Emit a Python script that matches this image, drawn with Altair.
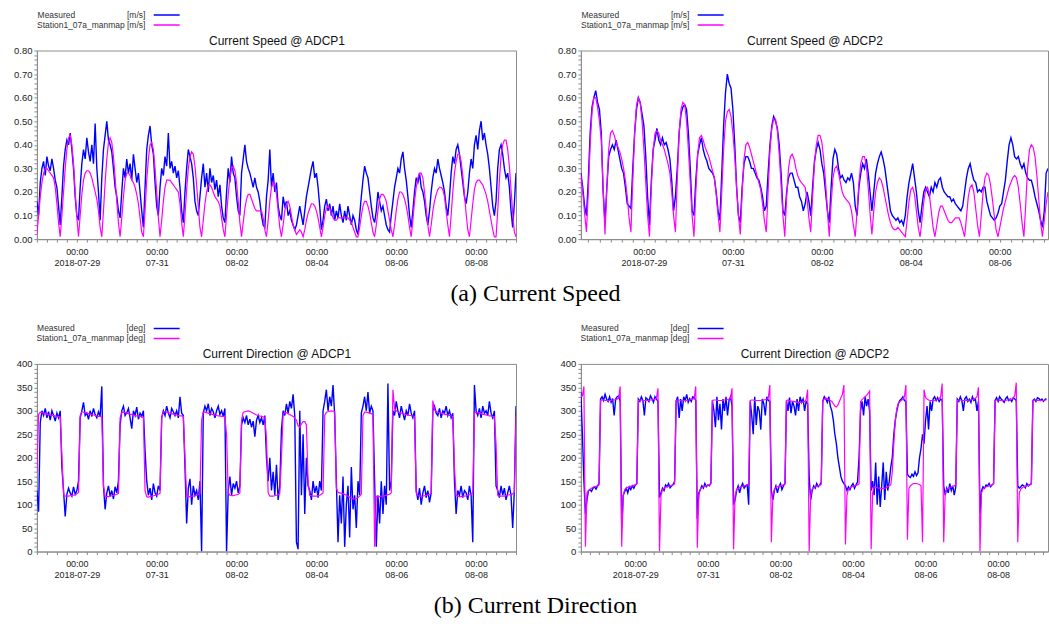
import altair as alt
import numpy as np
import pandas as pd

SERIES = ["Measured", "Station1_07a_manmap"]
COLORS = ["#0000ff", "#ff00ff"]

# ---------------- Current Speed @ ADCP1 : hourly from 2018-07-28 00:00, cm/s
spd1_meas_cms = [
    16, 10, 24, 30, 33, 27, 35, 31, 29, 34, 30, 25, 22, 14, 6, 18, 31, 38, 42, 40, 45, 38, 30, 18,
    10, 8, 22, 32, 38, 34, 43, 37, 33, 40, 32, 49, 30, 20, 8, 26, 38, 44, 50, 42, 40, 37, 30, 22,
    18, 12, 9, 20, 30, 26, 34, 28, 32, 25, 36, 30, 24, 28, 20, 12, 5, 22, 38, 44, 48, 40, 36, 24,
    14, 10, 22, 30, 27, 35, 31, 45, 30, 33, 28, 31, 26, 29, 22, 12, 7, 20, 30, 38, 35, 32, 26, 16,
    12, 10, 18, 26, 32, 22, 28, 20, 30, 24, 27, 21, 25, 18, 23, 14, 9, 7, 20, 30, 24, 35, 28, 26,
    18, 12, 10, 28, 34, 40, 33, 30, 28, 25, 22, 26, 22, 20, 16, 10, 6, 5, 18, 25, 38, 22, 28, 20,
    24, 14, 10, 8, 18, 14, 16, 10, 12, 8, 6, 4, 6, 10, 14, 10, 6, 12, 18, 22, 26, 30, 33, 26,
    28, 22, 14, 4, 8, 14, 17, 12, 15, 10, 14, 8, 12, 9, 15, 10, 7, 12, 8, 14, 10, 6, 10, 8,
    4, 2, 10, 18, 25, 31, 28, 26, 20, 14, 9, 7, 12, 20, 16, 12, 14, 10, 6, 4, 3, 10, 16, 22,
    26, 30, 28, 34, 37, 30, 25, 18, 10, 5, 12, 20, 26, 24, 28, 22, 20, 16, 10, 6, 12, 20, 26, 30,
    28, 34, 30, 27, 24, 20, 14, 10, 18, 28, 35, 32, 38, 40, 36, 30, 24, 18, 15, 20, 28, 34, 30, 40,
    44, 38, 46, 50, 42, 45, 40, 36, 30, 22, 14, 10, 16, 30, 38, 40, 36, 30, 26, 28, 22, 12, 5, 15, 28,
]
spd1_model_cms = [
    2, 10, 18, 24, 28, 30, 30, 29, 28, 27, 26, 22, 15, 7, 1, 10, 20, 30, 38, 43, 44, 40, 32, 20,
    9, 1, 10, 19, 25, 28, 29, 29, 28, 26, 23, 20, 17, 12, 5, 1, 12, 24, 34, 41, 43, 41, 35, 26,
    16, 7, 1, 9, 18, 25, 28, 28, 27, 25, 24, 22, 19, 15, 9, 3, 1, 12, 25, 34, 40, 41, 38, 30,
    20, 9, 1, 8, 16, 22, 25, 25, 25, 24, 23, 22, 21, 20, 15, 7, 1, 10, 21, 30, 35, 37, 36, 31,
    23, 14, 5, 1, 8, 15, 20, 23, 23, 22, 20, 18, 17, 16, 14, 9, 4, 1, 10, 19, 26, 30, 31, 29,
    24, 16, 7, 1, 7, 13, 17, 19, 19, 17, 15, 13, 12, 12, 12, 12, 9, 4, 1, 8, 16, 22, 24, 23,
    19, 12, 5, 1, 6, 12, 15, 16, 14, 10, 6, 4, 2, 3, 4, 3, 1, 4, 8, 11, 13, 15, 15, 14,
    12, 9, 5, 1, 5, 10, 13, 14, 13, 11, 9, 8, 8, 9, 9, 9, 9, 9, 9, 9, 8, 7, 5, 3,
    1, 1, 5, 10, 14, 16, 16, 14, 11, 7, 3, 1, 6, 12, 17, 19, 19, 18, 16, 12, 8, 4, 1, 6,
    12, 17, 20, 20, 19, 17, 14, 10, 5, 1, 8, 16, 22, 26, 28, 28, 26, 20, 13, 6, 1, 6, 12, 16,
    19, 21, 22, 22, 21, 18, 12, 6, 1, 10, 20, 28, 33, 36, 36, 33, 27, 19, 11, 4, 1, 8, 15, 21,
    24, 25, 25, 24, 23, 21, 19, 16, 12, 8, 4, 1, 1, 12, 25, 35, 40, 42, 42, 38, 31, 21, 11, 3, 1,
]

# ---------------- Current Speed @ ADCP2 : hourly from 2018-07-27 14:00, cm/s
spd2_meas_cms = [
    28, 22, 14, 10, 25, 45, 56, 60, 63, 58, 55, 45, 20, 7,
    22, 35, 38, 40, 38, 42, 38, 34, 30, 28, 22, 15, 14, 13,
    30, 45, 55, 60, 58, 53, 48, 35, 18, 6,
    25, 38, 42, 47, 42, 40, 43, 40, 41, 38, 34, 25, 12,
    18, 30, 45, 53, 56, 57, 55, 45, 30, 12, 10,
    25, 36, 40, 43, 38, 35, 33, 30, 29, 28, 26, 20, 12, 8,
    28, 48, 62, 70, 66, 64, 55, 40, 22, 10, 7,
    22, 32, 35, 35, 33, 30, 30, 28, 26, 25, 22, 18, 12, 14,
    28, 40, 48, 52, 50, 47, 40, 28, 12, 10,
    20, 26, 28, 28, 25, 22, 22, 18, 16, 12, 15, 20, 16, 10,
    22, 33, 38, 41, 38, 32, 28, 20, 12, 7,
    22, 34, 38, 36, 30, 26, 27, 25, 24, 26, 25, 28, 24, 14, 10,
    22, 28, 32, 30, 34, 28, 20, 12,
    20, 28, 32, 35, 37, 34, 30, 24, 18, 12, 10, 9, 8, 9, 7, 8, 6, 10,
    18, 24, 28, 32, 26, 20, 12, 7,
    14, 20, 22, 20, 18, 22, 20, 24, 22, 25, 26, 22, 20, 19, 18, 18, 16, 17, 15, 14, 13, 12, 14,
    20, 26, 30, 32, 28, 25, 24, 20, 21, 20, 22, 22, 16, 13, 10, 9, 8, 9,
    11, 14, 15, 20, 25, 33, 40, 43, 40, 35, 34, 35, 32, 30, 32, 28, 26, 25, 25,
    22, 18, 15, 12, 8, 5, 12, 28, 30,
]
spd2_model_cms = [
    27, 20, 11, 3,
    20, 40, 54, 60, 60, 56, 50, 42, 22, 2,
    22, 38, 45, 46, 44, 41, 39, 37, 34, 30, 25, 18, 9, 3,
    25, 45, 57, 60, 58, 50, 38, 24, 10, 1,
    22, 38, 45, 46, 45, 42, 40, 38, 35, 32, 28, 20, 10, 3,
    25, 45, 55, 58, 57, 50, 38, 24, 10, 1,
    20, 36, 43, 44, 42, 39, 37, 35, 32, 29, 26, 19, 10, 3,
    20, 38, 50, 54, 55, 52, 45, 35, 22, 10, 2,
    20, 34, 40, 41, 39, 36, 33, 30, 27, 24, 21, 15, 8, 3,
    20, 38, 47, 51, 51, 46, 36, 23, 10, 1,
    18, 30, 35, 36, 34, 30, 27, 25, 24, 23, 22, 17, 9, 3,
    18, 32, 40, 44, 44, 41, 34, 24, 12, 1,
    15, 26, 30, 31, 28, 24, 20, 18, 17, 16, 15, 12, 6, 1,
    12, 24, 32, 35, 35, 31, 22, 11, 2,
    12, 20, 24, 26, 25, 22, 18, 14, 10, 7, 5, 4, 4, 5, 4, 3, 2, 1,
    8, 16, 21, 22, 19, 12, 5, 1,
    8, 16, 21, 22, 19, 12, 5, 1,
    6, 11, 14, 14, 12, 10, 8, 7, 7, 8, 9, 9, 9, 7, 4, 1,
    9, 18, 22, 23, 20, 13, 6, 1,
    10, 20, 26, 28, 27, 23, 17, 10, 4, 1,
    5, 9, 13, 16, 19, 22, 24, 26, 27, 26, 22, 15, 7, 1,
    15, 30, 38, 40, 39, 35, 27, 17, 7, 1,
    8, 15, 20,
]

# ---------------- Current Direction @ ADCP1 : hourly from 2018-07-28 00:00, deg
dir1_meas = [
    130, 85, 275, 300, 290, 305, 285, 298, 280, 300, 290, 278, 295, 285, 300,
    180,
    130, 75, 122, 135, 125, 118, 138, 122, 130, 150,
    285, 300, 318, 290, 295, 282, 300, 288, 305, 292, 285, 298, 288, 352,
    140,
    90, 125, 140, 118, 130, 112, 138, 125, 150,
    270,
    300, 310, 290, 296, 305, 285, 262, 300, 290, 308, 282, 295, 288, 300,
    215,
    150, 120, 135, 110, 145, 125, 118, 140, 130,
    285,
    300, 290, 310, 295, 285, 305, 298, 290, 300, 285, 330, 295, 290,
    180,
    60, 135, 155, 100, 140, 120, 130, 110, 150,
    0,
    295, 310, 300, 315, 290, 305, 298, 285, 300, 310, 292, 300, 288, 305,
    0,
    130, 160, 120, 145, 135, 150, 125, 140,
    270,
    285, 275, 290, 270, 282, 265, 278, 245, 280, 290, 275, 285, 270, 290,
    200,
    150, 200, 130, 170, 120, 185, 110, 140,
    260,
    300, 290, 315, 295, 320, 305, 335, 290, 20,
    5, 300, 120, 250, 80, 200,
    140,
    130, 110, 150, 125, 140, 115, 150, 130, 300,
    320, 345, 300, 330, 310, 355, 290,
    150, 20, 120, 60, 160, 10, 100, 140, 30, 180, 90, 120, 50, 150, 120, 295,
    310, 330, 300, 340, 295, 310, 300,
    150,
    10, 120, 60, 150, 80, 140, 100, 358, 130, 150,
    300,
    290, 320, 300, 285, 310, 295, 280, 300, 290, 315, 295, 285, 300,
    130, 110, 135, 100, 125, 140, 115, 130, 105, 125,
    300,
    310, 295, 290, 305, 285, 300, 295, 310, 290, 300, 285, 295,
    150,
    80, 130, 120, 140, 115, 130, 125, 110, 140, 120, 20,
    355, 300, 290, 305, 285, 310, 295, 300, 290, 320, 295, 285, 300,
    140,
    130, 115, 140, 120, 135, 110, 125, 140, 120, 50, 130,
    310,
]
dir1_model = [
    170,
    292, 297, 296, 295, 294, 293, 292, 291, 290, 290, 289, 288, 288, 287,
    205,
    122, 118, 118, 118, 119, 120, 120, 121, 123, 126,
    290, 298, 297, 296, 295, 294, 293, 292, 291, 290, 289, 288, 288, 287,
    140,
    118, 117, 117, 118, 119, 120, 121, 122, 124,
    285,
    296, 297, 296, 295, 294, 293, 292, 291, 290, 289, 289, 288, 287, 286,
    130,
    117, 116, 117, 118, 119, 120, 121, 122, 124,
    285,
    298, 298, 297, 296, 295, 294, 293, 292, 291, 290, 289, 289, 288,
    200,
    118, 117, 117, 118, 118, 119, 120, 121, 124,
    280,
    297, 297, 296, 295, 294, 293, 292, 291, 290, 289, 289, 288, 288, 287,
    250,
    125, 120, 119, 119, 120, 121, 122, 125,
    280,
    297, 298, 299, 300, 299, 297, 295, 293, 291, 290, 289, 288, 287, 286,
    240,
    125, 118, 118, 118, 119, 120, 121, 124,
    200,
    292, 297, 296, 294, 292, 290, 288, 285, 280,
    268, 265, 272, 277, 277, 270,
    150,
    120, 119, 118, 118, 118, 119, 120, 122, 125,
    290, 297, 298, 299, 300, 299, 298,
    135, 126, 125, 124, 123, 122, 120, 118, 116, 114, 112, 112, 113, 115, 118, 122,
    290, 297, 297, 296, 295, 294, 292,
    10,
    118, 117, 117, 118, 118, 119, 120, 121, 122, 125,
    345,
    305, 300, 298, 296, 295, 294, 293, 292, 291, 290, 290, 289, 288,
    125, 119, 118, 118, 118, 119, 120, 121, 122, 124,
    322,
    302, 299, 297, 296, 295, 294, 293, 292, 291, 290, 289, 288,
    180,
    120, 118, 117, 117, 118, 118, 119, 120, 121, 122, 125,
    295, 297, 296, 295, 294, 293, 292, 291, 290, 289, 289, 288, 287,
    230,
    120, 118, 118, 118, 118, 119, 120, 121, 122, 123, 126,
    290,
]

# ---------------- Current Direction @ ADCP2 : hourly from 2018-07-27 12:00, deg
dir2_meas = [
    340, 250, 150, 80, 110,
    130, 132, 128, 135, 138, 133, 140, 145,
    325, 330, 322, 335, 325, 320, 330, 318, 326, 290, 325, 330, 332,
    320, 50, 120,
    128, 135, 125, 138, 132, 140, 135, 142, 145,
    325, 320, 330, 322, 290, 328, 325, 320, 332, 326, 318, 330, 325,
    320, 115, 125,
    135, 130, 142, 138, 145, 136, 140, 143, 150,
    320, 330, 285, 325, 300, 330, 322, 335, 318, 326, 320, 330, 328,
    322, 70, 125,
    132, 140, 135, 145, 138, 142, 140, 146,
    322, 300, 265, 330, 280, 315, 260, 325, 300, 330, 290, 322, 330,
    310, 100, 110,
    130, 140, 125, 138, 145, 135, 140, 142, 100,
    320, 290, 250, 330, 270, 310, 300, 260, 325, 315, 290, 330, 322,
    320, 130, 110,
    130, 140, 125, 138, 145, 132, 140, 145,
    322, 300, 328, 295, 320, 310, 290, 325, 300, 330, 318, 325, 300, 320,
    315, 160, 110,
    130, 140, 135, 145, 138, 142, 148,
    320, 330, 325, 318, 330, 310, 300, 280, 250, 230, 200, 180, 160, 150,
    145, 140, 130,
    138, 132, 140, 145, 135, 142, 148, 200,
    300, 320, 290, 330, 310, 325, 300,
    130, 150,
    120, 190, 100, 160, 95, 140, 190, 110, 170, 130, 150, 180,
    200, 250, 280, 300, 315, 322,
    325, 330, 322,
    320, 165, 160,
    158, 165, 160, 170, 162, 168, 200, 220,
    250, 230,
    280, 310, 260, 320, 300, 325, 330, 322, 328, 320, 325,
    322, 140, 120,
    135, 125, 145, 130, 140, 120, 138,
    325, 320, 330, 322, 300, 326, 330, 320, 325, 318, 330, 322, 325, 300,
    320, 80, 130,
    138, 135, 142, 140, 145, 138, 142, 145,
    322, 328, 320, 330, 325, 322, 318, 326, 330, 322, 325, 320, 328, 325,
    322, 140, 135,
    138, 142, 140, 136, 145, 140, 143, 145,
    322, 325, 320, 328, 326, 322, 325, 320, 324, 326,
]
dir2_model = [
    330, 332, 352, 10, 125,
    130, 133, 135, 137, 138, 139, 140, 142,
    322, 323, 323, 322, 322, 322, 322, 322, 323, 323, 324, 325, 327,
    352, 10, 120,
    132, 135, 137, 138, 139, 140, 141, 142, 144,
    322, 323, 323, 322, 322, 322, 322, 322, 323, 323, 324, 325, 327,
    348, 0, 120,
    132, 135, 137, 138, 139, 140, 141, 142, 144,
    322, 323, 323, 322, 322, 322, 322, 322, 323, 323, 324, 325, 327,
    352, 8, 120,
    133, 136, 138, 139, 140, 141, 142, 144,
    322, 323, 323, 322, 322, 322, 322, 322, 323, 323, 324, 325, 327,
    348, 5, 120,
    132, 135, 137, 138, 139, 140, 141, 142, 144,
    322, 323, 323, 322, 322, 322, 322, 322, 323, 323, 324, 325, 328,
    355, 20, 120,
    133, 136, 138, 139, 140, 141, 142, 144,
    322, 323, 322, 321, 320, 320, 319, 318, 318, 318, 318, 319, 320, 324,
    345, 0, 120,
    133, 136, 138, 139, 140, 141, 143,
    322, 325, 327, 326, 324, 322, 320, 315, 310, 308, 312, 320, 328, 335,
    355, 15, 120,
    133, 136, 138, 139, 140, 141, 142, 144,
    320, 324, 327, 330, 333, 337, 342,
    5, 125,
    138, 137, 136, 135, 135, 134, 134, 135, 136, 138, 140, 142,
    170, 230, 280, 305, 315, 320,
    322, 325, 330,
    355, 25, 135,
    140, 143, 145, 145, 145, 144, 143, 140,
    20, 345,
    328, 325, 323, 322, 322, 322, 322, 323, 324, 326, 330,
    358, 20, 125,
    133, 135, 137, 138, 139, 140, 142,
    322, 323, 323, 322, 322, 322, 322, 322, 323, 323, 324, 325, 327, 330,
    350, 0, 125,
    133, 136, 138, 139, 140, 141, 142, 144,
    322, 323, 323, 322, 322, 322, 322, 322, 323, 323, 324, 325, 327, 332,
    360, 20, 125,
    133, 136, 138, 139, 140, 141, 142, 144,
    322, 323, 323, 322, 322, 322, 322, 322, 323, 323,
]

NBSP = "\u00a0"
ZWSP = "\u200b"
FONT = "Liberation Sans"


def long_frame(start, meas, model, scale=1.0):
    n = min(len(meas), len(model))
    times = pd.date_range(start, periods=n, freq="h")
    a = pd.DataFrame({"time": times, "value": [float(v) * scale for v in meas[:n]], "series": SERIES[0]})
    b = pd.DataFrame({"time": times, "value": [float(v) * scale for v in model[:n]], "series": SERIES[1]})
    return pd.concat([a, b], ignore_index=True)


XLAB = (
    "(hours(datum.value) == 0 && ((month(datum.value) == 6 && date(datum.value) % 2 == 1) || "
    "(month(datum.value) == 7 && date(datum.value) % 2 == 0))) ? "
    "[timeFormat(datum.value, '%H:%M'), "
    "(month(datum.value) == 6 && date(datum.value) == 29) ? timeFormat(datum.value, '%Y-%m-%d') "
    ": timeFormat(datum.value, '%m-%d')] : ''"
)


def dt(ts):
    ts = pd.Timestamp(ts)
    return alt.DateTime(year=ts.year, month=ts.month, date=ts.day, hours=ts.hour)


def six_hourly(start, end):
    return [dt(t) for t in pd.date_range(start, end, freq="6h")]


def panel(df, start, end, width, height, ymax, ystep, ylab, title, unit):
    # trailing blank room (kept from being trimmed by a zero-width end mark) puts the swatch
    # to the right of the text, as in the reference
    tail = NBSP * 15 + ZWSP
    meas_label = "Measured" + NBSP * 21 + " [" + unit + "]" + tail
    model_label = "Station1_07a_manmap [" + unit + "]" + tail
    legend = alt.Legend(
        orient="none", legendX=0, legendY=-40, title=None, direction="vertical",
        labelExpr="datum.label == 'Measured' ? '" + meas_label + "' : '" + model_label + "'",
        labelAlign="right", labelOffset=0, labelLimit=400, symbolOffset=116,
        symbolType="stroke", symbolSize=676, symbolStrokeWidth=1.6,
        clipHeight=9, rowPadding=1,
        labelFont=FONT, labelFontSize=8.5, labelColor="#333",
    )
    color = alt.Color("series:N", scale=alt.Scale(domain=SERIES, range=COLORS), legend=legend)
    yvals = [float(round(v, 3)) for v in np.arange(0, ymax + ystep / 2, ystep)]
    xscale = alt.Scale(domain=[dt(start), dt(end)], nice=False)
    first_tick = pd.Timestamp(start).ceil("6h")
    x_bottom = alt.X(
        "time:T", scale=xscale,
        axis=alt.Axis(
            orient="bottom", title=None, values=six_hourly(first_tick, end), labelExpr=XLAB,
            labelOverlap=False, labelFlush=False, labelPadding=5,
            labelLineHeight=11, grid=False,
        ),
    )
    x_top = alt.X(
        "time:T", scale=xscale,
        axis=alt.Axis(
            orient="top", title=title, labels=False, ticks=False, domain=False, grid=False,
            titleFont=FONT, titleFontSize=12, titleFontWeight="normal", titleColor="#111",
            titlePadding=3,
        ),
    )
    y = alt.Y(
        "value:Q",
        scale=alt.Scale(domain=[0, ymax], nice=False, zero=True),
        axis=alt.Axis(
            title=None, values=yvals, labelExpr=ylab, labelOverlap=False,
            minExtent=30, maxExtent=30, labelPadding=2, grid=False, labelFontSize=9.5,
        ),
    )
    meas = (
        alt.Chart(df)
        .transform_filter(alt.datum.series == SERIES[0])
        .mark_line(clip=True, strokeWidth=1.4)
        .encode(x=x_bottom, y=y, color=color)
    )
    model = (
        alt.Chart(df)
        .transform_filter(alt.datum.series == SERIES[1])
        .mark_line(clip=True, strokeWidth=1.2)
        .encode(x=x_top, y=y, color=color)
    )
    return alt.layer(meas, model).resolve_axis(x="independent").properties(width=width, height=height)


SPD_LAB = "abs(datum.value * 10 - round(datum.value * 10)) < 0.001 ? format(datum.value, '.2f') : ''"
DIR_LAB = "datum.value % 50 == 0 ? format(datum.value, 'd') : ''"

df_tl = long_frame("2018-07-28 00:00", spd1_meas_cms, spd1_model_cms, 0.01)
df_tr = long_frame("2018-07-27 14:00", spd2_meas_cms, spd2_model_cms, 0.01)
df_bl = long_frame("2018-07-28 00:00", dir1_meas, dir1_model)
df_br = long_frame("2018-07-27 12:00", dir2_meas, dir2_model)

tl = panel(df_tl, "2018-07-28 00:00", "2018-08-09 00:00", 480, 189, 0.8, 0.02, SPD_LAB,
           "Current Speed @ ADCP1", "m/s")
tr = panel(df_tr, "2018-07-27 14:00", "2018-08-07 02:00", 468, 189, 0.8, 0.02, SPD_LAB,
           "Current Speed @ ADCP2", "m/s")
bl = panel(df_bl, "2018-07-28 00:00", "2018-08-09 00:00", 480, 188, 400, 10, DIR_LAB,
           "Current Direction @ ADCP1", "deg")
br = panel(df_br, "2018-07-27 12:00", "2018-08-09 09:00", 468, 188, 400, 10, DIR_LAB,
           "Current Direction @ ADCP2", "deg")

cap = dict(orient="bottom", anchor="middle", font="Liberation Serif", fontSize=24,
           fontWeight="normal", color="#000", offset=14, dx=8)

top = alt.hconcat(tl, tr, spacing=33, title=alt.TitleParams("(a) Current Speed", **cap)).resolve_scale(
    color="independent")
bottom = alt.hconcat(bl, br, spacing=33, title=alt.TitleParams("(b) Current Direction", **cap)).resolve_scale(
    color="independent")

chart = (
    alt.vconcat(top, bottom, spacing=17)
    .resolve_scale(color="independent")
    .properties(padding={"left": 6, "top": 9, "right": 0, "bottom": 0}, background="white")
    .configure_view(stroke="#8c8c8c", strokeWidth=1)
    .configure_axis(
        domainColor="#8c8c8c", tickColor="#8c8c8c", tickSize=3,
        labelFont=FONT, labelFontSize=9, labelColor="#222",
    )
)

chart.save("out.html", embed_options={"renderer": "svg", "actions": False})
